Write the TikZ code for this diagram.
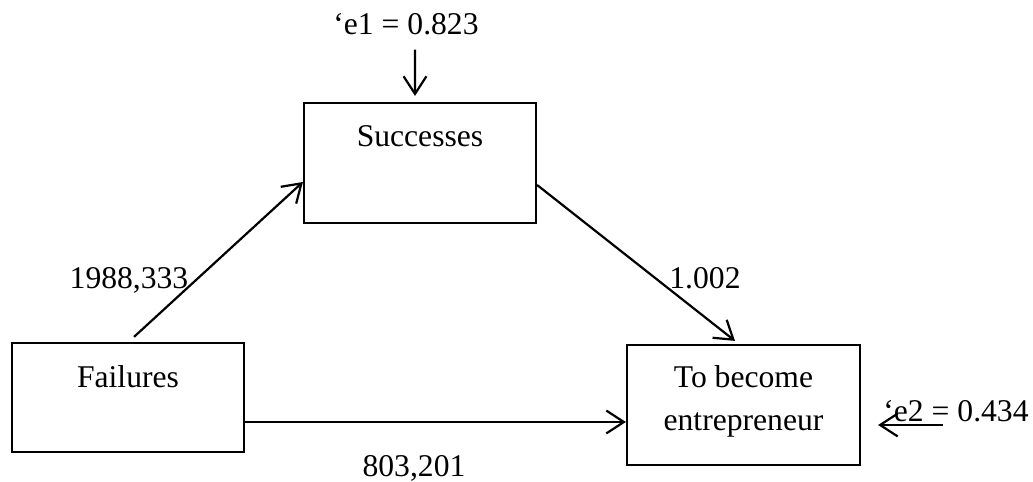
\documentclass[tikz,border=0pt]{standalone}
\usepackage{fontspec}
\setmainfont{Liberation Serif}
\usetikzlibrary{arrows.meta}

\begin{document}
\begin{tikzpicture}[line width=1.25pt,
  font=\fontsize{18}{24.5}\selectfont,
  box/.style={draw, minimum width=4.64cm, minimum height=2.4cm},
  arr/.style={-{Straight Barb[length=10pt,width=13pt]}},
  val/.style={anchor=base, inner sep=0pt}]
\useasboundingbox (0,0) rectangle (20.66,9.64);
% variables
\node[box, label={[anchor=north,yshift=-0.33cm]north:Successes}] (succ) at (8.40,6.38) {};
\node[box, minimum height=2.18cm, label={[anchor=north,yshift=-0.33cm]north:Failures}] (fail) at (2.56,1.69) {};
\node[box, minimum width=4.66cm, label={[anchor=north,yshift=-0.3cm,align=center]north:To become\\entrepreneur}] (become) at (14.87,1.54) {};
% errors
\node[val] (e1) at (8.12,8.94) {`e1 = 0.823};
\node[val] (e2) at (19.12,1.20) {`e2 = 0.434};
\draw[arr] ([xshift=0.18cm,yshift=-0.26cm]e1.south) -- ([xshift=-0.1cm,yshift=0.12cm]succ.north);
\coordinate (e2t) at (18.86,1.14);
\coordinate (e2h) at ([xshift=0.34cm]become.east);
\draw[arr] (e2t) -- (e2t -| e2h);
% paths
\draw[arr] ([xshift=0.12cm,yshift=0.1cm]fail.north) -- ([yshift=-0.38cm]succ.west);
\draw[arr] ([yshift=-0.44cm]succ.east) -- ([xshift=-0.17cm,yshift=0.06cm]become.north);
\coordinate (h0) at ([yshift=-0.49cm]fail.east);
\draw[arr] (h0) -- (h0 -| become.west);
\node[val] (p1) at (2.58,3.86) {1988,333};
\node[val] (p2) at (14.10,3.86) {1.002};
\node[val] (p3) at (8.28,0.10) {803,201};
\end{tikzpicture}
\end{document}
